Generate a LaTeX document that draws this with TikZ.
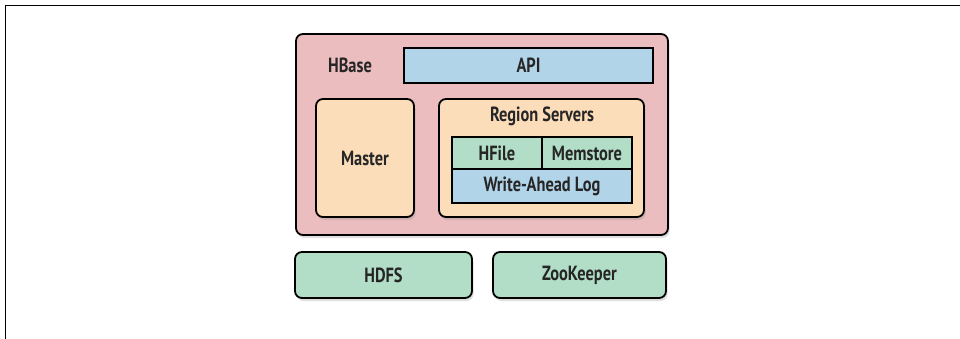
\documentclass[tikz,border=0pt]{standalone}
\usepackage{fontspec}
\setmainfont[FakeStretch=0.8]{PT Sans}
\usetikzlibrary{shadows}
\definecolor{hbasePink}{HTML}{EBBDBF}
\definecolor{apiBlue}{HTML}{B2D4E9}
\definecolor{masterPeach}{HTML}{FCDDBA}
\definecolor{storeGreen}{HTML}{B2DEC8}
\begin{document}
\begin{tikzpicture}
[x=1pt,y=-1pt,
  boxDecorate/.style={draw,line width=1.8pt,rounded corners=7pt,
    drop shadow={shadow xshift=1.5pt,shadow yshift=-3pt,opacity=0.25}},%
  cellDecorate/.style={draw,line width=1.8pt,inner sep=0pt},%
  textDecorate/.style={font=\fontsize{20.5}{24}\selectfont\bfseries,text=black!85},%
  every node/.style={textDecorate}]
\useasboundingbox (0,0) rectangle (960,339);
%% frame
\draw[line width=1pt] (5,339) -- (5,6) -- (960,6);
%% hbase and its parts
\node (hbase) at (482,134.5) [boxDecorate,fill=hbasePink,minimum width=372pt,minimum height=201pt] {};
\node (hbaselabel) at (350,65) {HBase};
\node (api) at (528.5,65.5) [cellDecorate,fill=apiBlue,minimum width=249pt,minimum height=35pt] {API};
\node (master) at (365,158) [boxDecorate,fill=masterPeach,minimum width=98pt,minimum height=118pt,drop shadow={opacity=0}] {Master};
\node (rs) at (541.5,158) [boxDecorate,fill=masterPeach,minimum width=205pt,minimum height=118pt,drop shadow={opacity=0}] {};
\node (rslabel) at (542,116) {Region Servers};
\node (hfile) at (497,153) [cellDecorate,fill=storeGreen,minimum width=90pt,minimum height=32pt] {HFile};
\node (memstore) at (587,153) [cellDecorate,fill=storeGreen,minimum width=90pt,minimum height=32pt] {Memstore};
\node (wal) at (542,186) [cellDecorate,fill=apiBlue,minimum width=180pt,minimum height=34pt] {Write-Ahead Log};
%% underlying services
\node (hdfs) at (383.5,275) [boxDecorate,fill=storeGreen,minimum width=177pt,minimum height=46pt] {HDFS};
\node (zk) at (579.5,275) [boxDecorate,fill=storeGreen,minimum width=173pt,minimum height=46pt] {ZooKeeper};
\end{tikzpicture}
\end{document}
